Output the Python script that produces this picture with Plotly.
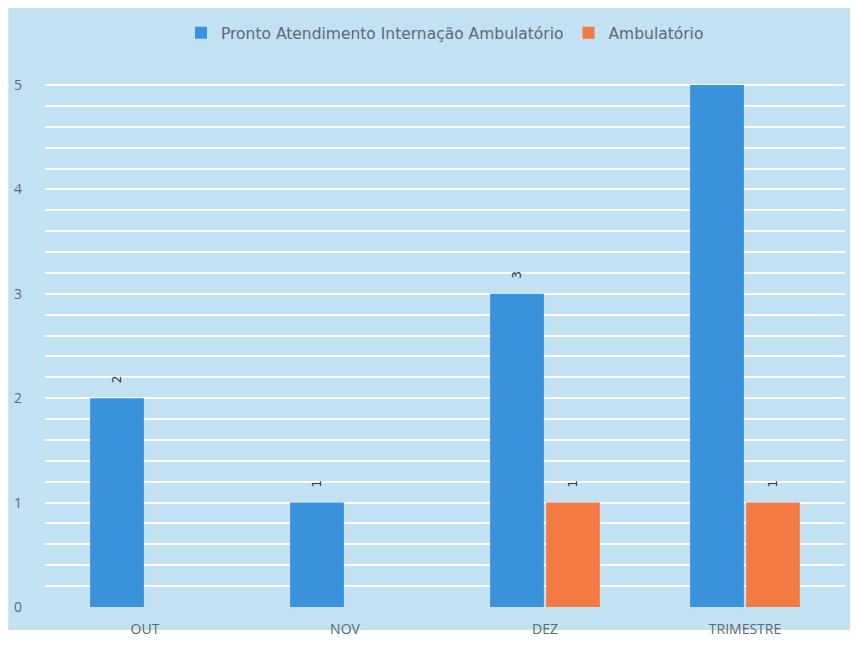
import plotly.graph_objects as go

# dados do grafico
categorias = ["OUT", "NOV", "DEZ", "TRIMESTRE"]
pronto_atend = [2, 1, 3, 5]
ambulatorio = [None, None, 1, 1]

azul = "#3a92dc"
laranja = "#f47a44"
fundo = "#c2e1f3"
cinza = "#5f6874"
ymax = 5.02

fig = go.Figure()

fig.add_trace(go.Bar(
    x=categorias, y=pronto_atend,
    name="Pronto Atendimento Internação Ambulatório",
    marker=dict(color=azul, line=dict(width=0)),
    offsetgroup="a"))

fig.add_trace(go.Bar(
    x=categorias, y=ambulatorio,
    name="Ambulatório",
    marker=dict(color=laranja, line=dict(width=0)),
    offsetgroup="b"))

# rotulos das barras (o 5 fica cortado no original)
desloc = {"a": -0.14, "b": 0.14}
for serie, grupo in [(pronto_atend, "a"), (ambulatorio, "b")]:
    for i, v in enumerate(serie):
        if v is None or v >= ymax - 0.1:
            continue
        fig.add_annotation(x=i + desloc[grupo], y=v, text=str(v), showarrow=False,
                           textangle=-90, yshift=19, xref="x", yref="y",
                           font=dict(family="DejaVu Sans", size=12, color="#333333"))

# fundo azul claro (a borda branca vem do scan)
fig.add_shape(type="rect", xref="paper", yref="paper",
              x0=-0.046, x1=1.03, y0=-0.044, y1=1.2,
              fillcolor=fundo, line=dict(width=0), layer="below")

fig.update_layout(
    width=858, height=654,
    margin=dict(l=37, r=21, t=75, b=55, autoexpand=False),
    paper_bgcolor="white",
    plot_bgcolor=fundo,
    font=dict(family="Open Sans", color=cinza, size=13),
    barmode="group",
    bargap=0.44,
    bargroupgap=0.04,
    showlegend=True,
    legend=dict(orientation="h", x=0.5, xanchor="center", y=1.095, yanchor="middle",
                font=dict(family="DejaVu Sans", size=15.5, color=cinza), bgcolor="rgba(0,0,0,0)",
                itemwidth=30, traceorder="normal"),
    xaxis=dict(showgrid=False, zeroline=False, showline=False, ticklabelstandoff=12,
               tickfont=dict(size=14, color=cinza), ticks=""),
    yaxis=dict(range=[0, ymax], dtick=1, showgrid=True, gridcolor="white", gridwidth=2,
               zeroline=False, showline=False, ticks="", ticklabelstandoff=22,
               tickfont=dict(size=14, color=cinza),
               minor=dict(dtick=0.2, showgrid=True, gridcolor="white", gridwidth=2)),
)

fig.write_html("out.html")
